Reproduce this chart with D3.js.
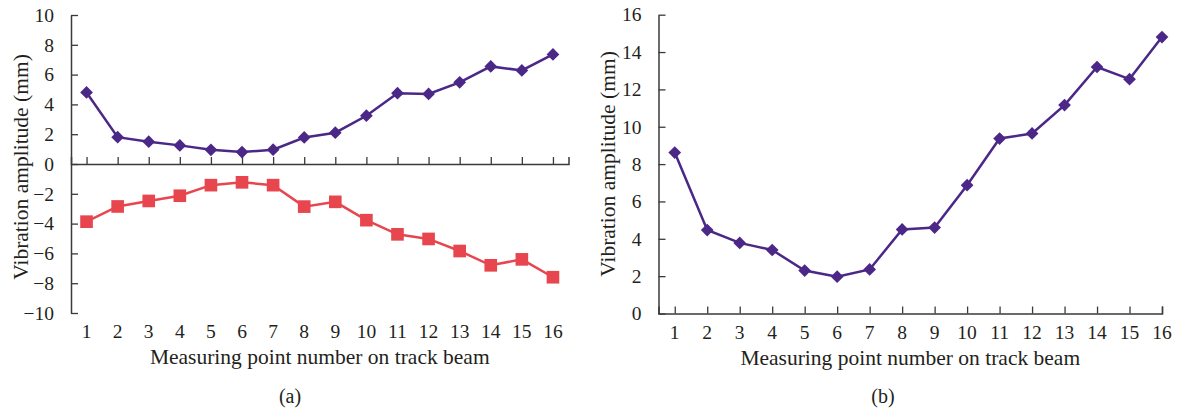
<!DOCTYPE html>
<html>
<head>
<meta charset="utf-8">
<script src="https://cdn.jsdelivr.net/npm/d3@7"></script>
<style>
  body { margin: 0; background: #fff; }
  svg text { font-family: "Liberation Serif", "Times New Roman", serif; fill: #231f20; }
</style>
</head>
<body>
<svg id="chart" width="1178" height="413"></svg>
<script>
// measuring points 1..16
const points = d3.range(1, 17);

// (a) upper series (diamonds) and lower series (squares)
const upperA = [4.8, 1.8, 1.5, 1.25, 0.95, 0.8, 0.96, 1.78, 2.1, 3.24, 4.75, 4.7, 5.48, 6.55, 6.28, 7.35];
const lowerA = [-3.87, -2.85, -2.48, -2.13, -1.42, -1.23, -1.42, -2.86, -2.54, -3.77, -4.72, -5.03, -5.84, -6.8, -6.4, -7.6];

// (b) series
const seriesB = [8.62, 4.47, 3.78, 3.4, 2.3, 1.97, 2.36, 4.5, 4.6, 6.87, 9.37, 9.64, 11.16, 13.2, 12.55, 14.8];

const yTicksA = d3.range(-10, 11, 2);
const yTicksB = d3.range(0, 17, 2);

const purple = "#4b2788";
const red = "#e8464f";
const axisColor = "#3a3a3a";
const yLabel = "Vibration amplitude (mm)";
const xLabel = "Measuring point number on track beam";

const svg = d3.select("#chart");

function drawPanel(opt) {
  const g = svg.append("g");
  const x = d3.scaleLinear().domain([0.5, opt.xEnd]).range(opt.xRange);
  const y = d3.scaleLinear().domain(opt.yDomain).range(opt.yRange);

  // y axis, ticks pointing inward
  const yAxis = g.append("g")
    .attr("transform", `translate(${opt.xRange[0]},0)`)
    .call(d3.axisLeft(y).tickValues(opt.yTicks).tickSizeInner(-7).tickSizeOuter(0).tickPadding(17));
  yAxis.select(".domain").attr("stroke", axisColor).attr("stroke-width", 1.5);
  yAxis.selectAll(".tick line").attr("stroke", axisColor).attr("stroke-width", 1.3);
  yAxis.selectAll(".tick text").attr("font-size", 19.5).attr("fill", "#231f20");

  // x axis at y = 0, ticks upward, labels drawn separately at bottom
  const xAxis = g.append("g")
    .attr("transform", `translate(0,${y(0)})`)
    .call(d3.axisBottom(x).tickValues(points).tickSizeInner(-7).tickSizeOuter(-7).tickFormat(""));
  xAxis.select(".domain").attr("stroke", axisColor).attr("stroke-width", 1.5);
  xAxis.selectAll(".tick line").attr("stroke", axisColor).attr("stroke-width", 1.3);

  g.append("g").selectAll("text")
    .data(points)
    .join("text")
    .attr("x", d => x(d))
    .attr("y", opt.yRange[0] + 25)
    .attr("text-anchor", "middle")
    .attr("font-size", 19.5)
    .text(d => d);

  const line = d3.line().x((d, i) => x(points[i])).y(d => y(d));

  opt.series.forEach(s => {
    g.append("path")
      .datum(s.values)
      .attr("fill", "none")
      .attr("stroke", s.color)
      .attr("stroke-width", 2.5)
      .attr("d", line);

    g.append("g").selectAll("path")
      .data(s.values)
      .join("path")
      .attr("transform", (d, i) => {
        const t = `translate(${x(points[i])},${y(d)})`;
        return s.shape === "square" ? t : t + " rotate(45) scale(0.9)";
      })
      .attr("d", s.shape === "square" ? d3.symbol(d3.symbolSquare, 160)() : d3.symbol(d3.symbolSquare, 100)())
      .attr("fill", s.color);
  });

  // axis titles
  const midX = (opt.xRange[0] + opt.xRange[1]) / 2;
  g.append("text")
    .attr("x", midX)
    .attr("y", opt.yRange[0] + 51)
    .attr("text-anchor", "middle")
    .attr("font-size", 21.5)
    .text(xLabel);

  g.append("text")
    .attr("transform", `translate(${opt.yLabelX},${opt.yLabelY}) rotate(-90)`)
    .attr("text-anchor", "middle")
    .attr("font-size", 21.5)
    .text(yLabel);

  g.append("text")
    .attr("x", opt.tagX)
    .attr("y", 403)
    .attr("text-anchor", "middle")
    .attr("font-size", 20)
    .text(opt.tag);
}

drawPanel({
  xEnd: 16.5,
  xRange: [71, 568.5],
  yDomain: [-10, 10],
  yRange: [313, 15],
  yTicks: yTicksA,
  series: [
    { values: upperA, color: purple, shape: "diamond" },
    { values: lowerA, color: red, shape: "square" }
  ],
  yLabelX: 28,
  yLabelY: 167,
  tagX: 290,
  tag: "(a)"
});

drawPanel({
  xEnd: 16,
  xRange: [658.5, 1162],
  yDomain: [0, 16],
  yRange: [313.5, 14.7],
  yTicks: yTicksB,
  series: [
    { values: seriesB, color: purple, shape: "diamond" }
  ],
  yLabelX: 615,
  yLabelY: 164,
  tagX: 883,
  tag: "(b)"
});
</script>
</body>
</html>
